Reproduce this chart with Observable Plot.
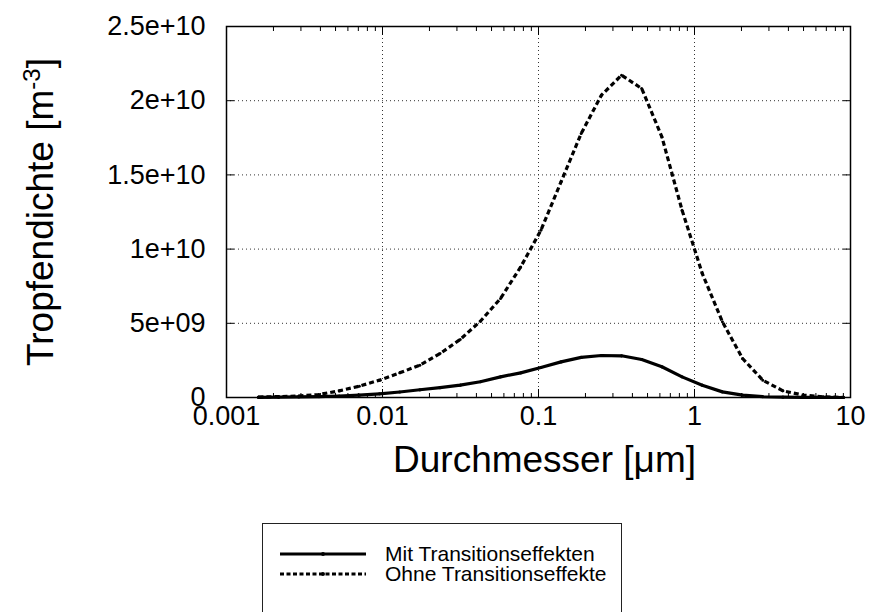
<!DOCTYPE html>
<html><head><meta charset="utf-8">
<script src="https://cdn.jsdelivr.net/npm/d3@7"></script>
<script src="https://cdn.jsdelivr.net/npm/@observablehq/plot@0.6"></script>
<style>
body{margin:0;background:#fff;font-family:"Liberation Sans",Arial,Helvetica,sans-serif}
#wrap{position:relative;width:884px;height:612px;overflow:hidden;background:#fff}
#legend{position:absolute;left:262px;top:523px;width:360px;height:120px;border:1px solid #222;box-sizing:border-box;background:#fff}
.row{position:absolute;left:0;height:18px;display:flex;align-items:center}
.row svg{margin-left:17px}
.row span{margin-left:19px;font-size:21px;line-height:18px;color:#000}
</style></head>
<body><div id="wrap"><div id="chart"></div>
<div id="legend">
 <div class="row" style="top:21px"><svg width="86" height="10"><line x1="0" x2="86" y1="5" y2="5" stroke="#000" stroke-width="3"/><circle cx="43" cy="5" r="2" fill="#000"/></svg><span id="l1"></span></div>
 <div class="row" style="top:41px"><svg width="86" height="10"><line x1="0" x2="86" y1="5" y2="5" stroke="#000" stroke-width="3" stroke-dasharray="4,2.5"/><circle cx="43" cy="5" r="2" fill="#000"/></svg><span id="l2"></span></div>
</div></div>
<script>
// Durchmesser [µm]
const diameters = [0.001603,0.002159,0.002909,0.003916,0.005275,0.007105,0.009568,0.01289,0.01736,0.02337,0.03148,0.04240,0.05710,0.07690,0.1036,0.1395,0.1878,0.2530,0.3407,0.4588,0.6180,0.8325,1.121,1.510,2.033,2.738,3.688,4.967,6.690,9.010];
// Tropfendichte [m^-3]
const mitTransition = [1.5e7,2.5e7,4e7,6e7,1.0e8,1.6e8,2.5e8,3.7e8,5.2e8,6.6e8,8.3e8,1.06e9,1.39e9,1.66e9,2.02e9,2.4e9,2.7e9,2.83e9,2.81e9,2.56e9,2.07e9,1.39e9,8.3e8,3.8e8,1.6e8,6e7,2e7,6e6,2e6,5e5];
const ohneTransition = [3e7,6e7,1.0e8,2.0e8,4.5e8,7.6e8,1.17e9,1.66e9,2.18e9,2.96e9,3.91e9,5.14e9,6.67e9,8.8e9,1.127e10,1.453e10,1.779e10,2.037e10,2.172e10,2.082e10,1.756e10,1.262e10,8.36e9,5.1e9,2.63e9,1.17e9,4.5e8,1.6e8,4.5e7,1e7];
const seriesNames = ["Mit Transitionseffekten","Ohne Transitionseffekte"];
const xTickValues = [0.001,0.01,0.1,1,10];
const xTickLabels = ["0.001","0.01","0.1","1","10"];
const yTickValues = [0,5e9,1e10,1.5e10,2e10,2.5e10];
const yTickLabels = ["0","5e+09","1e+10","1.5e+10","2e+10","2.5e+10"];
const xTitle = "Durchmesser [\u03bcm]";
const yTitle = "Tropfendichte [m-3]";

const minorTicks = [];
for (let e = -3; e < 1; e++) for (let m = 2; m <= 9; m++) minorTicks.push(m * Math.pow(10, e));

const mit = diameters.map((d, i) => ({d, v: mitTransition[i]}));
const ohne = diameters.map((d, i) => ({d, v: ohneTransition[i]}));
const xFmt = new Map(xTickValues.map((v, i) => [v, xTickLabels[i]]));
const yFmt = new Map(yTickValues.map((v, i) => [v, yTickLabels[i]]));
const blank = () => "";

const chart = Plot.plot({
  width: 884, height: 500,
  marginLeft: 226, marginRight: 34, marginTop: 26, marginBottom: 103,
  style: {fontFamily: '"Liberation Sans", Arial, Helvetica, sans-serif', color: "#000", background: "#fff"},
  x: {type: "log", domain: [0.001, 10]},
  y: {domain: [0, 2.5e10]},
  marks: [
    Plot.gridX(xTickValues, {stroke: "#333", strokeOpacity: 1, strokeDasharray: "1,3"}),
    Plot.gridY(yTickValues, {stroke: "#333", strokeOpacity: 1, strokeDasharray: "1,3"}),
    Plot.axisX(minorTicks, {anchor: "bottom", tickSize: -4, tickFormat: blank, label: null}),
    Plot.axisX(minorTicks, {anchor: "top", tickSize: -4, tickFormat: blank, label: null}),
    Plot.axisX(xTickValues, {anchor: "bottom", tickSize: -8, tickFormat: blank, label: null}),
    Plot.axisX(xTickValues, {anchor: "top", tickSize: -8, tickFormat: blank, label: null}),
    Plot.axisY(yTickValues, {anchor: "left", tickSize: -8, tickFormat: blank, label: null}),
    Plot.axisY(yTickValues, {anchor: "right", tickSize: -8, tickFormat: blank, label: null}),
    Plot.axisX(xTickValues, {anchor: "bottom", tickSize: 0, tickPadding: 8, fontSize: 27, tickFormat: d => xFmt.get(d), label: xTitle, labelAnchor: "center", labelOffset: 74, labelArrow: "none"}),
    Plot.axisY(yTickValues, {anchor: "left", tickSize: 0, tickPadding: 21, fontSize: 27, tickFormat: d => yFmt.get(d), label: yTitle, labelAnchor: "center", labelOffset: 200, labelArrow: "none"}),
    Plot.line(ohne, {x: "d", y: "v", stroke: "#000", strokeWidth: 3.2, strokeDasharray: "5,3", strokeLinecap: "butt", strokeLinejoin: "miter"}),
    Plot.line(mit, {x: "d", y: "v", stroke: "#000", strokeWidth: 3.2}),
    Plot.dot(ohne, {x: "d", y: "v", r: 1.5, fill: "#000"}),
    Plot.dot(mit, {x: "d", y: "v", r: 1.6, fill: "#000"}),
    Plot.frame({stroke: "#000", strokeWidth: 1.5})
  ]
});
document.getElementById("chart").appendChild(chart);

// axis title sizes and superscript
const svg = d3.select(chart);
svg.selectAll('g[aria-label="x-axis label"] text, g[aria-label="y-axis label"] text').attr("font-size", 37);
svg.selectAll('g[aria-label="x-axis label"] text').attr("dx", 6);
const yl = svg.select('g[aria-label="y-axis label"] text');
if (!yl.empty()) {
  yl.text(null);
  yl.append("tspan").text("Tropfendichte [m");
  yl.append("tspan").attr("font-size", 24).attr("baseline-shift", "super").text("-3");
  yl.append("tspan").text("]");
}
document.getElementById("l1").textContent = seriesNames[0];
document.getElementById("l2").textContent = seriesNames[1];
</script>
</body></html>
